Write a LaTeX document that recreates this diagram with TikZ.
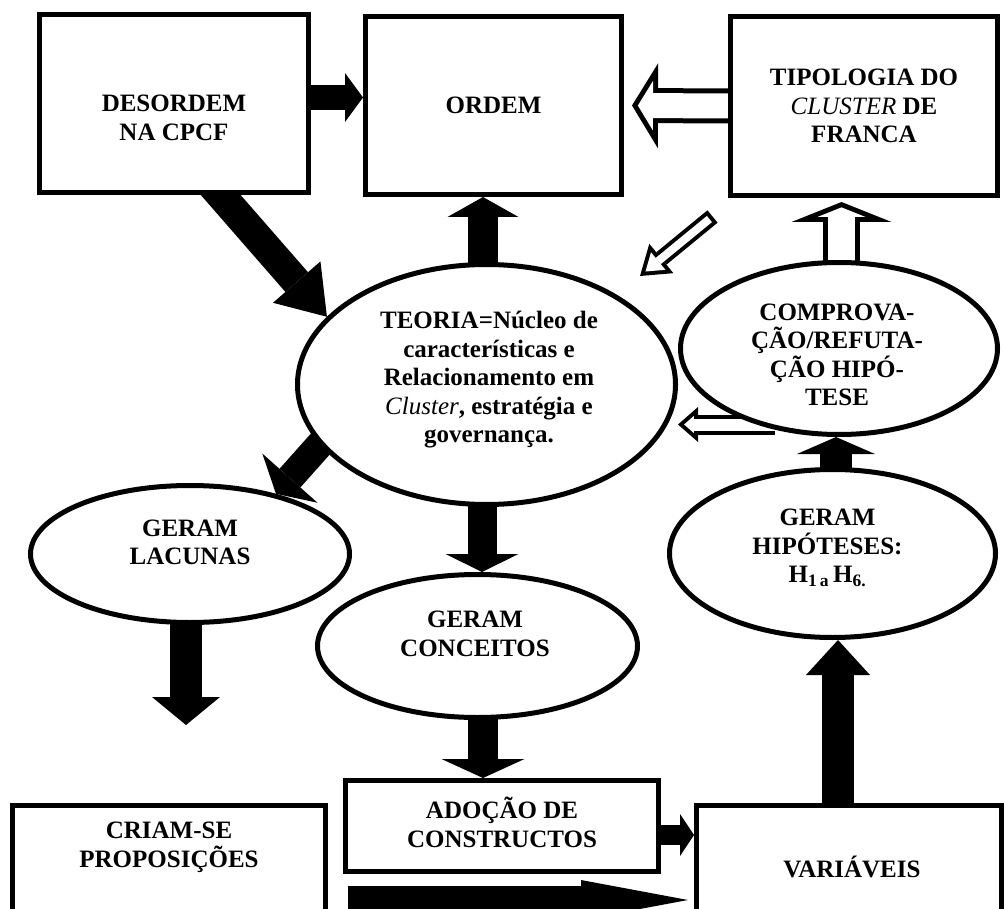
\documentclass[tikz,border=0pt]{standalone}
\usepackage{fontspec}
\setmainfont{Liberation Serif}
\usetikzlibrary{shapes.geometric,arrows.meta}
\pgfdeclarelayer{bg}
\pgfsetlayers{bg,main}
\newcommand{\fsz}{\bfseries\fontsize{25}{28.5}\selectfont}
\newcommand{\itl}[1]{\textit{\mdseries #1}}
\tikzset{
  box/.style={draw, line width=5pt, fill=white, inner sep=0pt, rectangle},
  ell/.style={draw, line width=5pt, fill=white, inner sep=0pt, ellipse},
  lbl/.style={font=\fsz, align=center, inner sep=0pt},
  blk/.style n args={3}{line width=#1, -{Triangle[width=#2,length=#3,line width=0pt]}},
  hin/.style n args={4}{color=white, line width=#1, -{Triangle[width=#2,length=#3,line width=0pt]}, shorten >=#4},
}
\begin{document}
\begin{tikzpicture}[x=1pt,y=-1pt]
\useasboundingbox (0,0) rectangle (1004,909);
% boxes
\node[box, minimum width=269pt, minimum height=178pt,
  label={[lbl,yshift=-14.5pt]center:{DESORDEM\\NA CPCF}}] (des) at (174,103.5) {};
\node[box, minimum width=256pt, minimum height=178pt,
  label={[lbl]center:{ORDEM}}] (ord) at (493.5,105.5) {};
\node[box, minimum width=267pt, minimum height=179pt,
  label={[lbl]center:{TIPOLOGIA DO\\\itl{CLUSTER} DE\\FRANCA}}] (tip) at (864,106) {};
\node[box, minimum width=313pt, minimum height=127pt,
  label={[lbl,yshift=21.5pt]center:{CRIAM-SE\\PROPOSIÇÕES}}] (cri) at (169,869) {};
\node[box, minimum width=313pt, minimum height=91pt,
  label={[lbl,yshift=3.5pt]center:{ADOÇÃO DE\\CONSTRUCTOS}}] (ado) at (502,826) {};
\node[box, minimum width=305pt, minimum height=127pt,
  label={[lbl,xshift=3pt,yshift=2pt]center:{VARIÁVEIS}}] (var) at (849,869) {};
% ellipses
\node[ell, minimum width=378pt, minimum height=240pt,
  label={[lbl,xshift=2.5pt,yshift=4.5pt]center:{TEORIA=Núcleo de\\características e\\Relacionamento em\\\itl{Cluster}, estratégia e\\governança.}}] (teo) at (486.5,384.5) {};
\node[ell, minimum width=317pt, minimum height=172pt,
  label={[lbl,xshift=-2pt,yshift=-6.5pt]center:{COMPROVA-\\ÇÃO/REFUTA-\\ÇÃO HIPÓ-\\TESE}}] (com) at (839,348.5) {};
\node[ell, minimum width=326pt, minimum height=168pt,
  label={[lbl,xshift=-5pt,yshift=5.5pt]center:{GERAM\\HIPÓTESES:\\H\textsubscript{1\,a}\,H\textsubscript{6.}}}] (hip) at (832.5,553.5) {};
\node[ell, minimum width=319pt, minimum height=137pt,
  label={[lbl,yshift=11.5pt]center:{GERAM\\LACUNAS}}] (lac) at (190,554) {};
\node[ell, minimum width=320pt, minimum height=143pt,
  label={[lbl,xshift=-2.5pt,yshift=12pt]center:{GERAM\\CONCEITOS}}] (con) at (477.5,646) {};
% free ends
\coordinate (lacEnd) at (186,725);
\coordinate (h2a) at ([xshift=-15.5pt,yshift=-18.5pt]tip.south west);
\coordinate (h2b) at ([xshift=153.5pt,yshift=108.5pt]teo.center);
\begin{pgfonlayer}{bg}
% black block arrows
\draw[blk={25pt}{49pt}{18pt}] ([yshift=6pt]des.east) -- ([yshift=8pt]ord.west);
\draw[blk={30pt}{63pt}{46pt}] ([xshift=38pt,yshift=10pt]des.south) -- (teo.157);
\draw[blk={30pt}{71pt}{20pt}] ([xshift=-3.5pt,yshift=-12pt]teo.north) -- ([xshift=-10.5pt]ord.south);
\draw[blk={28pt}{74pt}{21pt}] ([xshift=-155pt,yshift=-47pt]teo.center) -- (lac.35);
\draw[blk={29pt}{73pt}{18pt}] ([xshift=-4.5pt,yshift=12pt]teo.south) -- ([xshift=4.5pt]con.north);
\draw[blk={32pt}{68pt}{28pt}] ([xshift=-4pt,yshift=12pt]lac.south) -- (lacEnd);
\draw[blk={30pt}{83pt}{19pt}] ([xshift=5.5pt,yshift=12pt]con.south) -- ([xshift=-19pt]ado.north);
\draw[blk={20pt}{42pt}{14pt}] ([xshift=-5pt,yshift=-9pt]ado.east) -- ([yshift=34pt]var.west);
\draw[blk={32pt}{64pt}{35pt}] ([xshift=-11pt,yshift=-12pt]var.north) -- ([xshift=5.5pt]hip.south);
\draw[blk={32pt}{78pt}{17pt}] ([xshift=3.5pt,yshift=-12pt]hip.north) -- ([xshift=-3pt]com.south);
\draw[blk={28pt}{40pt}{107pt}, shorten <=20pt, shorten >=6pt] ([yshift=-31pt]cri.east) -- ([yshift=-31pt]var.west);
% hollow block arrows
\draw[blk={35pt}{85pt}{26pt}] ([xshift=5pt]tip.west) -- ([xshift=8pt]ord.east);
\draw[hin={25pt}{49.5pt}{15.1pt}{5.86pt}] ([xshift=5pt]tip.west) -- ([xshift=8pt]ord.east);
\draw[blk={37pt}{100pt}{20pt}] ([xshift=2.5pt,yshift=-12pt]com.north) -- ([xshift=-22.5pt,yshift=-4pt]tip.south);
\draw[hin={27pt}{48pt}{9.6pt}{5.39pt}] ([xshift=2.5pt,yshift=-12pt]com.north) -- ([xshift=-22.5pt,yshift=-4pt]tip.south);
\draw[blk={16pt}{38pt}{27.6pt}] (h2a) -- (h2b);
\draw[hin={8pt}{22.7pt}{16.5pt}{7.07pt}, shorten <=4pt] (h2a) -- (h2b);
\draw[blk={20pt}{35pt}{20pt}] ([xshift=-64pt,yshift=-76pt]com.center) -- ([yshift=-40pt]teo.east);
\draw[hin={12pt}{17.3pt}{9.9pt}{6.07pt}] ([xshift=-64pt,yshift=-76pt]com.center) -- ([yshift=-40pt]teo.east);
\end{pgfonlayer}
\end{tikzpicture}
\end{document}
